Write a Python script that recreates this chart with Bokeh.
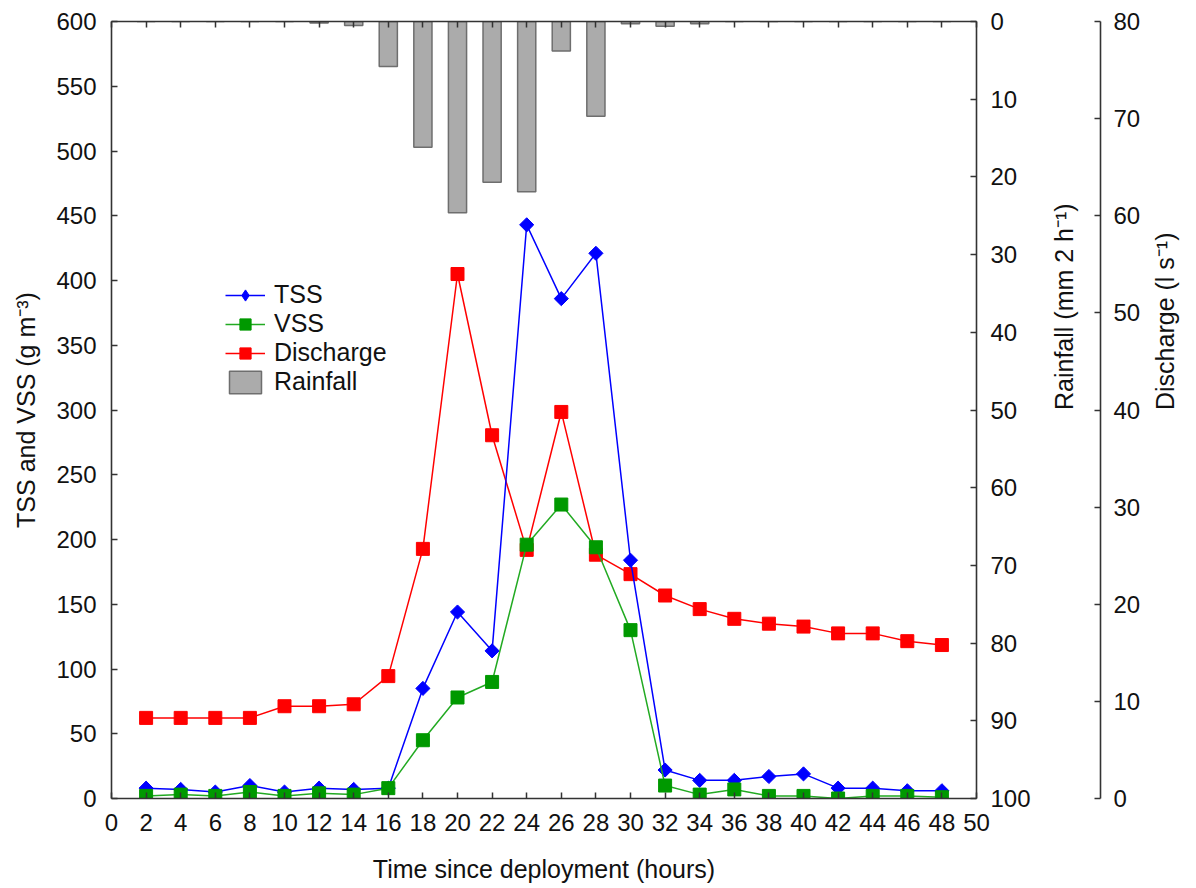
import math
from bokeh.plotting import figure
from bokeh.models import Range1d, LinearAxis, FixedTicker, Legend, LegendItem
from bokeh.embed import file_html
from bokeh.resources import INLINE

# ---------------- data ----------------
hours = [2, 4, 6, 8, 10, 12, 14, 16, 18, 20, 22, 24, 26, 28, 30, 32, 34, 36, 38, 40, 42, 44, 46, 48]
tss = [8, 7, 5, 10, 5, 8, 7, 8, 85, 144, 114, 443, 386, 421, 184, 22, 14, 14, 17, 19, 8, 8, 6, 6]
vss = [2, 3, 2, 5, 2, 4, 3, 8, 45, 78, 90, 196, 227, 194, 130, 10, 3, 7, 2, 2, 0, 2, 2, 1]
discharge = [8.3, 8.3, 8.3, 8.3, 9.5, 9.5, 9.7, 12.6, 25.7, 54.0, 37.4, 25.6, 39.8, 25.1,
             23.1, 20.9, 19.5, 18.5, 18.0, 17.7, 17.0, 17.0, 16.2, 15.8]
rainfall = [0, 0, 0, 0, 0, 0.2, 0.5, 5.8, 16.2, 24.6, 20.7, 21.9, 3.8, 12.2,
            0.3, 0.6, 0.3, 0, 0, 0, 0, 0, 0, 0]

x_ticks = list(range(0, 51, 2))
left_ticks = list(range(0, 601, 50))
rain_ticks = list(range(0, 101, 10))
dis_ticks = list(range(0, 81, 10))

x_title = "Time since deployment (hours)"
left_title = "TSS and VSS (g m\u207b\u00b3)"
rain_title = "Rainfall (mm 2 h\u207b\u00b9)"
dis_title = "Discharge (l s\u207b\u00b9)"

# ---------------- style ----------------
FONT = "Liberation Sans"
TXT = "#111111"
AXC = "#333333"
FS = "24px"
FT = "25px"
W, H = 1196, 888
FL, FR, FTOP, FB = 111, 977, 21, 798   # frame edges on the page

p = figure(width=W, height=H, x_range=Range1d(0, 50), y_range=Range1d(0, 600),
           output_backend="svg", toolbar_location=None,
           min_border_left=FL, min_border_right=W - FR,
           min_border_top=FTOP, min_border_bottom=H - FB,
           x_axis_location=None, y_axis_location=None)
p.extra_y_ranges = {"rain": Range1d(100, 0), "dis": Range1d(0, 80)}
p.xgrid.visible = False
p.ygrid.visible = False
p.outline_line_color = None
p.background_fill_color = "white"
p.border_fill_color = "white"


def style_axis(ax, tick_in=6, tick_out=0, standoff=14, label_standoff=16):
    ax.axis_line_color = AXC
    ax.axis_line_width = 1.6
    ax.major_tick_line_color = AXC
    ax.major_tick_line_width = 1.5
    ax.major_tick_in = tick_in
    ax.major_tick_out = tick_out
    ax.minor_tick_in = 0
    ax.minor_tick_out = 0
    ax.minor_tick_line_color = None
    ax.major_label_text_font = FONT
    ax.major_label_text_font_size = FS
    ax.major_label_text_color = TXT
    ax.major_label_standoff = standoff
    ax.axis_label_text_font = FONT
    ax.axis_label_text_font_size = FT
    ax.axis_label_text_font_style = "normal"
    ax.axis_label_text_color = TXT
    ax.axis_label_standoff = label_standoff


# bottom x axis
xax = LinearAxis(ticker=FixedTicker(ticks=x_ticks), axis_label=x_title)
style_axis(xax, standoff=15, label_standoff=21)
p.add_layout(xax, "below")

# top mirrored ticks (no labels)
tax = LinearAxis(ticker=FixedTicker(ticks=x_ticks))
style_axis(tax)
tax.major_label_text_color = None
p.add_layout(tax, "above")

# left axis
lax = LinearAxis(ticker=FixedTicker(ticks=left_ticks), axis_label=left_title)
style_axis(lax, standoff=15, label_standoff=13)
p.add_layout(lax, "left")

# rainfall axis (inverted)
rax = LinearAxis(y_range_name="rain", ticker=FixedTicker(ticks=rain_ticks), axis_label=rain_title)
style_axis(rax, standoff=14, label_standoff=30)
p.add_layout(rax, "right")

# spacer between rainfall title and discharge axis (white tick only)
sax = LinearAxis(y_range_name="rain", ticker=FixedTicker(ticks=[0]))
sax.axis_line_color = None
sax.major_tick_line_color = "white"
sax.minor_tick_line_color = None
sax.major_tick_in = 0
sax.major_tick_out = 6
sax.minor_tick_in = 0
sax.minor_tick_out = 0
sax.major_label_text_color = None
p.add_layout(sax, "right")

# discharge axis
dax = LinearAxis(y_range_name="dis", ticker=FixedTicker(ticks=dis_ticks), axis_label=dis_title)
style_axis(dax, standoff=13, label_standoff=22)
p.add_layout(dax, "right")

for ax in (rax, dax):
    try:
        ax.axis_label_orientation = math.pi / 2
    except Exception:
        pass

# ---------------- glyphs ----------------
bars = p.vbar(x=hours, width=1.05, top=[0] * len(hours), bottom=rainfall, y_range_name="rain",
              fill_color="#ABABAB", line_color="#6E6E6E", line_width=1.5)

RED, BLUE, GREEN = "#FF0000", "#0000FF", "#009900"

dl = p.line(hours, discharge, y_range_name="dis", line_color=RED, line_width=1.5)
ds = p.scatter(hours, discharge, y_range_name="dis", marker="square", size=13,
               fill_color=RED, line_color=RED)
tl = p.line(hours, tss, line_color=BLUE, line_width=1.5)
ts = p.scatter(hours, tss, marker="square", angle=math.pi / 4, size=10,
               fill_color=BLUE, line_color=BLUE)
# legend-only twin of the TSS markers (diamond shape in the key)
ts_key = p.scatter(hours, tss, marker="diamond", size=12, fill_color=BLUE, line_color=BLUE,
                   visible=False)
vl = p.line(hours, vss, line_color="#22AA22", line_width=1.5)
vs = p.scatter(hours, vss, marker="square", size=13, fill_color=GREEN, line_color=GREEN)

legend = Legend(items=[
    LegendItem(label="TSS", renderers=[tl, ts_key]),
    LegendItem(label="VSS", renderers=[vl, vs]),
    LegendItem(label="Discharge", renderers=[dl, ds]),
    LegendItem(label="Rainfall", renderers=[bars]),
], location=(114, 402))
legend.padding = 0
legend.margin = 0
legend.spacing = 0
legend.glyph_width = 40
legend.glyph_height = 28
legend.label_height = 28
legend.label_standoff = 9
legend.label_text_font = FONT
legend.label_text_font_size = FT
legend.label_text_color = TXT
legend.background_fill_alpha = 0
legend.border_line_color = None
p.add_layout(legend, "center")

open("out.html", "w").write(file_html(p, INLINE))
